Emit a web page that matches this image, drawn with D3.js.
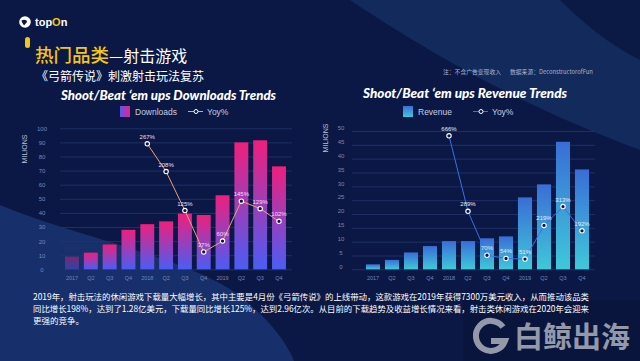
<!DOCTYPE html>
<html>
<head>
<meta charset="utf-8">
<script src="https://cdn.jsdelivr.net/npm/d3@7"></script>
<style>
  html, body { margin: 0; padding: 0; background: #0b1845; overflow: hidden; }
  text { font-family: "Liberation Sans", Arial, sans-serif; }
  .cjk { font-family: "Noto Sans CJK SC", sans-serif; }
</style>
</head>
<body>
<div id="chart"></div>
<script>
// data
const quarters = ['2017', 'Q2', 'Q3', 'Q4', '2018', 'Q2', 'Q3', 'Q4', '2019', 'Q2', 'Q3', 'Q4'];
const downloads = [9, 11.8, 17.6, 28, 32, 34, 39.5, 38.5, 52.5, 90, 91.5, 73];
const downloadsYoy = [null, null, null, null, 267, 208, 125, 37, 60, 145, 129, 102];
const revenue = [1.8, 3.4, 6.1, 8.4, 10.2, 10.2, 11.2, 11.9, 26, 30.7, 46.1, 36.1];
const revenueYoy = [null, null, null, null, 666, 289, 70, 54, 51, 219, 313, 192];
const leftTicks = [0, 10, 20, 30, 40, 50, 60, 70, 80, 90, 100];
const rightTicks = [0, 5, 10, 15, 20, 25, 30, 35, 40, 45, 50];

const width = 640;
const height = 361;

const svg = d3.select('#chart')
    .append('svg')
    .attr('width', width)
    .attr('height', height);

const defs = svg.append('defs');

function vGrad(id, top, bottom) {
    const g = defs.append('linearGradient')
        .attr('id', id)
        .attr('x1', 0).attr('y1', 0).attr('x2', 0).attr('y2', 1);
    g.append('stop').attr('offset', '0%').attr('stop-color', top);
    g.append('stop').attr('offset', '100%').attr('stop-color', bottom);
}
vGrad('pinkBar', '#ef1f7c', '#4a5df4');
vGrad('blueBar', '#3a6dd6', '#3fc8da');

const hg = defs.append('linearGradient').attr('id', 'pinkSwatch')
    .attr('x1', 0).attr('y1', 0).attr('x2', 1).attr('y2', 0);
hg.append('stop').attr('offset', '0%').attr('stop-color', '#5a55f0');
hg.append('stop').attr('offset', '100%').attr('stop-color', '#e8228a');

// background
svg.append('rect').attr('width', width).attr('height', height).attr('fill', '#0b1845');
svg.append('path')
    .attr('d', 'M350,0 L640,0 L640,150 C560,120 470,80 350,0 Z')
    .attr('fill', '#173066').attr('opacity', 0.75);
svg.append('path')
    .attr('d', 'M560,0 L640,0 L640,60 C610,45 585,25 560,0 Z')
    .attr('fill', '#0a1640').attr('opacity', 0.8);
svg.append('path')
    .attr('d', 'M0,205 C70,235 190,258 240,296 C272,322 288,345 294,361 L0,361 Z')
    .attr('fill', '#1a3472').attr('opacity', 0.85);
svg.append('rect')
    .attr('x', 463).attr('y', 300).attr('width', 177).attr('height', 61)
    .attr('fill', '#07112e').attr('opacity', 0.35);

// header
const logo = svg.append('g').attr('transform', 'translate(25,22)');
logo.append('circle').attr('r', 5.8).attr('fill', '#ffffff');
logo.append('path').attr('d', 'M-3.5,-1.5 C-1,-3 2,-2 2,0 L-1,3.5 C-2,2 -3,0.5 -3.5,-1.5 Z').attr('fill', '#0b1845');
const brand = svg.append('text')
    .attr('x', 35).attr('y', 26)
    .style('font-size', '11px').style('font-weight', 'bold')
    .attr('fill', '#ffffff');
brand.append('tspan').text('top');
brand.append('tspan').attr('fill', '#f5c518').text('O');
brand.append('tspan').text('n');

svg.append('rect')
    .attr('x', 25).attr('y', 37).attr('width', 5).attr('height', 11).attr('rx', 2.5)
    .attr('fill', '#f5c518');
const title = svg.append('text').attr('class', 'cjk')
    .attr('x', 35).attr('y', 62);
title.append('tspan').attr('fill', '#f5c518').style('font-size', '18.5px').style('font-weight', 500).text('热门品类');
title.append('tspan').attr('fill', '#ffffff').style('font-size', '16px').text('—射击游戏');

svg.append('text').attr('class', 'cjk')
    .attr('x', 36).attr('y', 80.5)
    .attr('fill', '#ffffff').style('font-size', '12px')
    .text('《弓箭传说》刺激射击玩法复苏');

svg.append('text').attr('class', 'cjk')
    .attr('x', 443).attr('y', 74)
    .attr('fill', '#aab4d2').style('font-size', '5.8px')
    .text('注：不含广告变现收入');
svg.append('text').attr('class', 'cjk')
    .attr('x', 510).attr('y', 74)
    .attr('fill', '#aab4d2').style('font-size', '5.8px')
    .text('数据来源：DeconstructorofFun');

// one bar + line chart
function drawChart(opt) {
    const g = svg.append('g');

    g.append('text')
        .text(opt.title)
        .attr('x', opt.titleX).attr('y', opt.titleY)
        .attr('textLength', opt.titleW).attr('lengthAdjust', 'spacingAndGlyphs')
        .attr('fill', '#ffffff')
        .style('font-family', 'Lato, "Open Sans", sans-serif')
        .style('font-size', '13px').style('font-weight', 900).style('font-style', 'italic');

    // legend
    g.append('rect')
        .attr('x', opt.legendX).attr('y', 106).attr('width', 10).attr('height', 11)
        .attr('fill', opt.swatch);
    g.append('text')
        .text(opt.barName)
        .attr('x', opt.legendX + 15).attr('y', 114.5)
        .attr('fill', '#c5cce4').style('font-size', '8.5px');
    g.append('line')
        .attr('x1', opt.legendLineX).attr('x2', opt.legendLineX + 15)
        .attr('y1', 111.5).attr('y2', 111.5)
        .attr('stroke', opt.lineColor).attr('stroke-width', 1);
    g.append('circle')
        .attr('cx', opt.legendLineX + 8).attr('cy', 111.5).attr('r', 2)
        .attr('fill', '#0b1845').attr('stroke', '#ffffff').attr('stroke-width', 1);
    g.append('text')
        .text('Yoy%')
        .attr('x', opt.legendLineX + 19).attr('y', 114.5)
        .attr('fill', '#c5cce4').style('font-size', '8.5px');

    const xScale = d3.scaleBand()
        .domain(d3.range(quarters.length))
        .range(opt.xRange)
        .paddingInner(0.26)
        .paddingOuter(0.13);

    const yScale = d3.scaleLinear()
        .domain([0, opt.yMax])
        .range([269.3, opt.yTop]);

    const yoyScale = d3.scaleLinear()
        .domain([0, opt.yoyMax])
        .range([269.3, opt.yTop]);

    // gridlines + y labels
    const yAxis = d3.axisLeft(yScale)
        .tickValues(opt.ticks)
        .tickSize(-(opt.gridX2 - opt.gridX1))
        .tickPadding(0);
    const ya = g.append('g')
        .attr('transform', `translate(${opt.gridX1},0)`)
        .call(yAxis);
    ya.select('.domain').remove();
    ya.selectAll('line').attr('stroke', '#23366f').attr('stroke-width', 0.8);
    ya.selectAll('text')
        .attr('x', opt.labelX - opt.gridX1)
        .attr('dy', opt.labelDy)
        .attr('text-anchor', 'middle')
        .attr('fill', '#7886b3')
        .style('font-size', '6px')
        .style('font-family', '"Liberation Sans", Arial, sans-serif');

    g.append('text')
        .text('MILIONS')
        .attr('transform', `translate(${opt.unitX},${opt.unitY}) rotate(-90)`)
        .attr('text-anchor', 'middle')
        .attr('fill', '#b8c0dc')
        .style('font-size', '7px');

    // x labels
    const xAxis = d3.axisBottom(xScale)
        .tickFormat(i => quarters[i])
        .tickSize(0)
        .tickPadding(6);
    const xa = g.append('g')
        .attr('transform', 'translate(0,270)')
        .call(xAxis);
    xa.select('.domain').remove();
    xa.selectAll('text')
        .attr('fill', '#7886b3')
        .style('font-size', '5.5px')
        .style('font-family', '"Liberation Sans", Arial, sans-serif');

    // bars
    g.selectAll('rect.bar')
        .data(opt.values)
        .enter()
        .append('rect')
        .attr('class', 'bar')
        .attr('x', (d, i) => xScale(i))
        .attr('width', xScale.bandwidth())
        .attr('y', d => yScale(d))
        .attr('height', d => yScale(0) - yScale(d))
        .attr('fill', opt.barFill)
        .attr('opacity', (d, i) => (i === 0 && opt.dimFirst) ? 0.45 : 1);

    // yoy line
    const pts = opt.yoy
        .map((v, i) => ({v: v, i: i}))
        .filter(p => p.v !== null);

    const line = d3.line()
        .x(p => xScale(p.i) + xScale.bandwidth() / 2)
        .y(p => yoyScale(p.v));

    g.append('path')
        .datum(pts)
        .attr('d', line)
        .attr('fill', 'none')
        .attr('stroke', opt.lineColor)
        .attr('stroke-width', 1);

    g.selectAll('circle.pt')
        .data(pts)
        .enter()
        .append('circle')
        .attr('class', 'pt')
        .attr('cx', p => xScale(p.i) + xScale.bandwidth() / 2)
        .attr('cy', p => yoyScale(p.v))
        .attr('r', 2.2)
        .attr('fill', '#0b1845')
        .attr('stroke', '#ffffff')
        .attr('stroke-width', 1.1);

    g.selectAll('text.pct')
        .data(pts)
        .enter()
        .append('text')
        .attr('class', 'pct')
        .text(p => p.v + '%')
        .attr('x', p => xScale(p.i) + xScale.bandwidth() / 2)
        .attr('y', p => yoyScale(p.v) - 5)
        .attr('text-anchor', 'middle')
        .attr('fill', opt.pctColor)
        .style('font-size', '6px');
}

drawChart({
    title: 'Shoot/Beat ‘em ups Downloads Trends',
    titleX: 61, titleY: 99.5, titleW: 215,
    legendX: 120, legendLineX: 188,
    swatch: 'url(#pinkSwatch)', barName: 'Downloads',
    lineColor: '#eea172', pctColor: '#f4dcf2',
    xRange: [62.6, 288.4],
    yMax: 100, yTop: 128.3, ticks: leftTicks, yoyMax: 300,
    gridX1: 60, gridX2: 292, labelX: 42, labelDy: '0.32em',
    unitX: 27, unitY: 149,
    values: downloads, yoy: downloadsYoy,
    barFill: 'url(#pinkBar)', dimFirst: true
});

drawChart({
    title: 'Shoot/Beat ‘em ups Revenue Trends',
    titleX: 363, titleY: 97.5, titleW: 204,
    legendX: 403, legendLineX: 473,
    swatch: 'url(#blueBar)', barName: 'Revenue',
    lineColor: '#3b6fe6', pctColor: '#e6eefc',
    xRange: [363.5, 591.5],
    yMax: 50, yTop: 131, ticks: rightTicks, yoyMax: 690,
    gridX1: 352, gridX2: 595, labelX: 341, labelDy: '-0.2em',
    unitX: 328, unitY: 138,
    values: revenue, yoy: revenueYoy,
    barFill: 'url(#blueBar)', dimFirst: false
});

// body text
const para = [
    '2019年，射击玩法的休闲游戏下载量大幅增长，其中主要是4月份《弓箭传说》的上线带动，这款游戏在2019年获得7300万美元收入，从而推动该品类',
    '同比增长198%，达到了1.28亿美元，下载量同比增长125%，达到2.96亿次。从目前的下载趋势及收益增长情况来看，射击类休闲游戏在2020年会迎来',
    '更强的竞争。'
];
svg.selectAll('text.para')
    .data(para)
    .enter()
    .append('text')
    .attr('class', 'para cjk')
    .text(d => d)
    .attr('x', 33)
    .attr('y', (d, i) => 299.5 + i * 12)
    .attr('textLength', (d, i) => i < 2 ? 556 : null)
    .attr('lengthAdjust', 'spacingAndGlyphs')
    .attr('fill', '#ffffff')
    .style('font-size', '8.5px');

// watermark
const wm = svg.append('g').attr('opacity', 0.72);
wm.append('path')
    .attr('d', 'M503,327 A15,15 0 1 0 505,341 L491,341')
    .attr('fill', 'none')
    .attr('stroke', '#c9ccd4')
    .attr('stroke-width', 6);
wm.append('text').attr('class', 'cjk')
    .text('白鲸出海')
    .attr('x', 514).attr('y', 348)
    .attr('fill', '#c9ccd4')
    .style('font-size', '29px').style('font-weight', 'bold');
</script>
</body>
</html>
